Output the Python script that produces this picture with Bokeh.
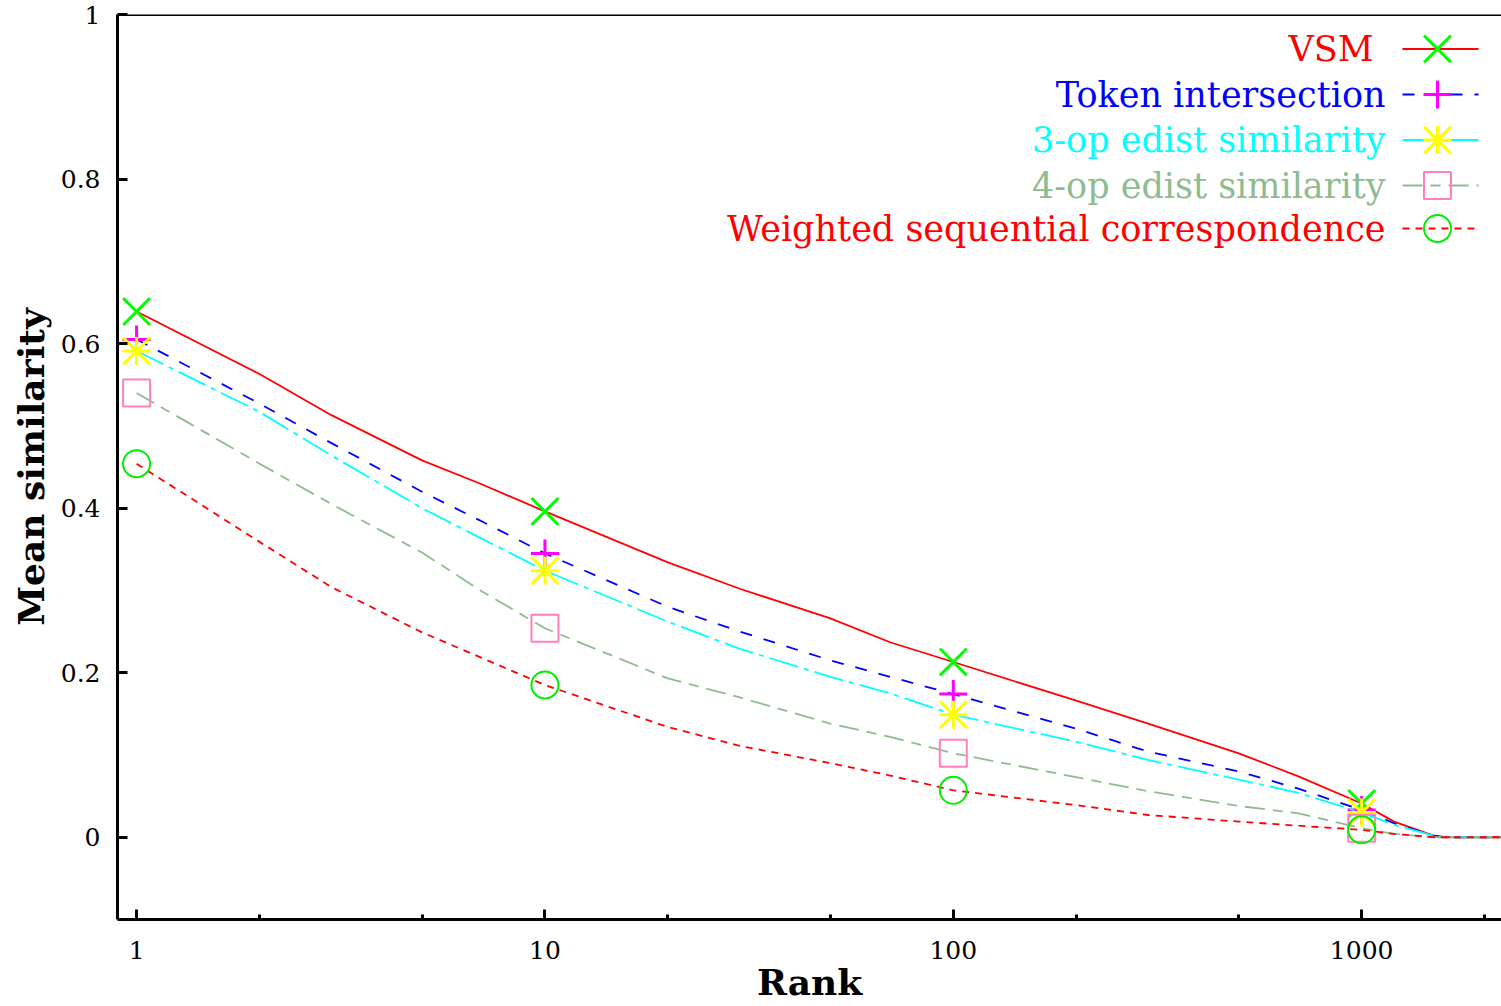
import numpy as np
from bokeh.plotting import figure
from bokeh.models import FixedTicker, CustomJSTickFormatter, Span
from bokeh.core.properties import value
from bokeh.embed import file_html
from bokeh.resources import INLINE

# ---------------- data ----------------
rank = [1, 2, 3, 5, 7, 10, 20, 30, 50, 70, 100, 200, 300, 500, 700, 1000, 1200, 1500, 1600, 2200]
vsm = [0.639, 0.563, 0.513, 0.458, 0.429, 0.396, 0.334, 0.302, 0.266, 0.237, 0.213,
       0.166, 0.138, 0.102, 0.074, 0.041, 0.019, 0.002, 0.0, 0.0]
token = [0.605, 0.527, 0.479, 0.420, 0.384, 0.345, 0.280, 0.250, 0.215, 0.195, 0.174,
         0.132, 0.104, 0.080, 0.059, 0.033, 0.017, 0.002, 0.0, 0.0]
op3 = [0.591, 0.517, 0.464, 0.400, 0.363, 0.324, 0.262, 0.229, 0.195, 0.175, 0.149,
       0.116, 0.094, 0.070, 0.054, 0.030, 0.015, 0.002, 0.0, 0.0]
op4 = [0.540, 0.454, 0.405, 0.346, 0.299, 0.254, 0.193, 0.170, 0.138, 0.122, 0.102,
       0.073, 0.056, 0.038, 0.029, 0.011, 0.004, 0.0, 0.0, 0.0]
wsc = [0.454, 0.359, 0.304, 0.249, 0.218, 0.185, 0.134, 0.111, 0.090, 0.075, 0.057,
       0.039, 0.027, 0.019, 0.014, 0.009, 0.004, 0.0, 0.0, 0.0]
marker_idx = [0, 5, 10, 15]  # ranks 1, 10, 100, 1000

names = ["VSM", "Token intersection", "3-op edist similarity",
         "4-op edist similarity", "Weighted sequential correspondence"]
x_ticks = [1, 10, 100, 1000]
x_minor = [2, 5, 20, 50, 200, 500, 2000]
y_ticks = [0, 0.2, 0.4, 0.6, 0.8, 1]
x_title = "Rank"
y_title = "Mean similarity"

# ---------------- styling ----------------
FONT = "DejaVu Serif"
W, H = 1501, 1006
FL, FR, FT, FB = 117, 1501, 14, 919
X0, X1 = 0.898, 2200
Y0, Y1 = -0.1, 1.0

p = figure(width=W, height=H, x_axis_type="log", x_range=(X0, X1), y_range=(Y0, Y1),
           output_backend="svg", toolbar_location=None,
           min_border_left=FL, min_border_right=W - FR, min_border_top=FT,
           min_border_bottom=H - FB)
p.outline_line_color = None
p.grid.visible = False
p.background_fill_color = "white"
p.border_fill_color = "white"

for ax in (p.xaxis[0], p.yaxis[0]):
    ax.axis_line_width = 3
    ax.axis_line_color = "black"
    ax.major_tick_in = 10
    ax.major_tick_out = 0
    ax.major_tick_line_width = 3
    ax.minor_tick_in = 5
    ax.minor_tick_out = 0
    ax.minor_tick_line_width = 3
    ax.major_label_text_font = FONT
    ax.major_label_text_font_size = "25px"
    ax.major_label_text_color = "black"
    ax.axis_label_text_font = FONT
    ax.axis_label_text_font_style = "bold"
    ax.axis_label_text_font_size = "36px"
    ax.axis_label_text_color = "black"

p.xaxis.ticker = FixedTicker(ticks=x_ticks, minor_ticks=x_minor)
p.xaxis.formatter = CustomJSTickFormatter(code="return String(Math.round(tick));")
p.xaxis.major_label_standoff = 21
p.xaxis.axis_label = x_title
p.xaxis.axis_label_standoff = -1

p.yaxis.ticker = FixedTicker(ticks=y_ticks, minor_ticks=[])
p.yaxis.formatter = CustomJSTickFormatter(code="return String(tick);")
p.yaxis.major_label_standoff = 17
p.yaxis.minor_tick_line_color = None
p.yaxis.axis_label = y_title
p.yaxis.axis_label_standoff = 6

# top border
p.add_layout(Span(location=Y1, dimension="width", line_color="black", line_width=3))

series = [
    dict(y=vsm, color="#ff0000", dash="solid", marker="x", mcolor="#00ff00"),
    dict(y=token, color="#0000ff", dash="12 12", marker="cross", mcolor="#ff00ff"),
    dict(y=op3, color="#00ffff", dash="30 6 5 6", marker="asterisk", mcolor="#ffff00"),
    dict(y=op4, color="#8fbc8f", dash="20 8 10 8", marker="square", mcolor="#ff80c0"),
    dict(y=wsc, color="#ff0000", dash="7 6", marker="circle", mcolor="#00ee00"),
]
MS = 27
XS = 38  # bokeh's "x" is drawn at ~1/sqrt(2) of its size


def draw_marker(xs, ys, kind, color):
    if kind == "asterisk":
        p.scatter(xs, ys, marker="cross", size=MS + 1, line_color=color, line_width=3, fill_color=None)
        p.scatter(xs, ys, marker="x", size=XS, line_color=color, line_width=3, fill_color=None)
    elif kind == "x":
        p.scatter(xs, ys, marker="x", size=XS, line_color=color, line_width=3, fill_color=None)
    elif kind == "cross":
        p.scatter(xs, ys, marker="cross", size=MS + 1, line_color=color, line_width=3, fill_color=None)
    else:
        p.scatter(xs, ys, marker=kind, size=MS, line_color=color, line_width=2, fill_color=None)


for s in series:
    p.line(rank, s["y"], line_color=s["color"], line_width=1.8, line_dash=s["dash"])
    mx = [rank[i] for i in marker_idx]
    my = [s["y"][i] for i in marker_idx]
    draw_marker(mx, my, s["marker"], s["mcolor"])


# ---------------- legend (placed in pixel space, converted to data space) ----------------
def sx(px):
    return 10 ** (np.log10(X0) + (px - FL) / (FR - FL) * (np.log10(X1) - np.log10(X0)))


def sy(py):
    return Y1 - (py - FT) / (FB - FT) * (Y1 - Y0)


row_y = [48.5, 94, 139.5, 185, 228]
text_right = [1373, 1385, 1385, 1385, 1385]
for i, (nm, s) in enumerate(zip(names, series)):
    yy = sy(row_y[i])
    p.text(x=[sx(text_right[i])], y=[yy], text=[nm], text_align="right", text_baseline="middle",
           text_font=value(FONT), text_font_size="35px", text_color=s["color"])
    p.line([sx(1402), sx(1478)], [yy, yy], line_color=s["color"], line_width=1.8, line_dash=s["dash"])
    draw_marker([sx(1437)], [yy], s["marker"], s["mcolor"])

open("out.html", "w").write(file_html(p, INLINE))
